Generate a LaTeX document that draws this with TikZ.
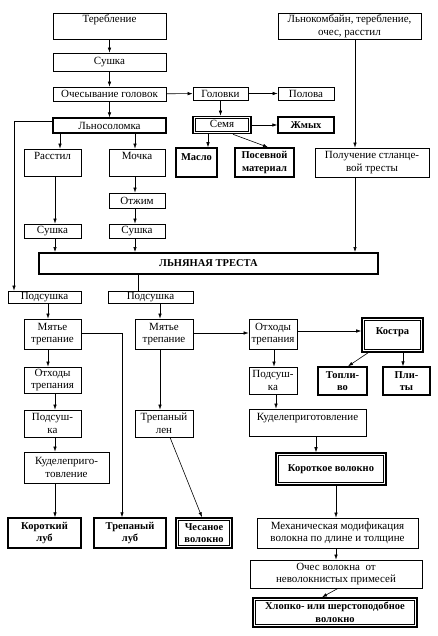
\documentclass[tikz,border=0pt]{standalone}
\usepackage{fontspec}
\setmainfont{Liberation Serif}
\usetikzlibrary{arrows.meta}
\newcommand\fsn{\fontsize{11}{12.5}\selectfont}
\newcommand\fsb{\fontsize{10.5}{12.5}\selectfont\bfseries}
\tikzset{
  base/.style={draw, line width=0.7pt, inner sep=1pt, align=center, font=\fsn},
  thk/.style={base, line width=1.5pt, font=\fsb},
  dbl/.style={base, font=\fsb, line width=1.6pt,
    path picture={\draw[line width=0.6pt]
      ([shift={(2.3pt,-2.3pt)}]path picture bounding box.north west) rectangle
      ([shift={(-2.3pt,2.3pt)}]path picture bounding box.south east);}},
  wh/.style 2 args={minimum width=#1, minimum height=#2},
  tt/.style 2 args={text height=#1, text depth=#2},
  arr/.style={line width=0.6pt, -{Latex[length=5pt,width=3.5pt]}},
  ln/.style={line width=0.6pt}
}
\begin{document}
\begin{tikzpicture}[x=1pt,y=-1pt]
\useasboundingbox (0,0) rectangle (437,636);
% row 1
\node[base, wh={113}{26}, tt={9pt}{15pt}] (tereb) at (109.5,26) {Теребление};
\node[base, wh={143}{26}] (lnokomb) at (349.5,26) {Льнокомбайн, теребление,\\очес, расстил};
\node[base, wh={113}{18}] (sush1) at (109.5,62) {Сушка};
\node[base, wh={113}{14}] (oches) at (109.5,94) {Очесывание головок};
\node[base, wh={55}{13}] (golov) at (220.5,93.5) {Головки};
\node[base, wh={56}{13}] (polova) at (306,93.5) {Полова};
\node[base, line width=1.2pt, wh={113}{15}] (lnosol) at (109.5,125.5) {Льносоломка};
\node[dbl, font=\fsn, wh={58}{17}, tt={8pt}{3pt}] (semya) at (222,125) {Семя};
\node[thk, wh={56}{16}] (zhmyh) at (306,125) {Жмых};
% row 3
\node[base, wh={57}{27}, tt={10pt}{15pt}] (rasstil) at (52.5,162.5) {Расстил};
\node[base, wh={56}{27}, tt={10pt}{15pt}] (mochka) at (137,162.5) {Мочка};
\node[thk, wh={41}{29}, tt={12pt}{15pt}] (maslo) at (196.5,162.5) {Масло};
\node[thk, wh={59}{29}] (posev) at (264.5,162.5) {Посевной\\материал};
\node[base, wh={114}{29}] (poluch) at (372,162.5) {Получение стланце-\\вой тресты};
\node[base, wh={56}{15}] (otzhim) at (137,200.5) {Отжим};
\node[base, wh={57}{14}] (sushA) at (52.5,231) {Сушка};
\node[base, wh={56}{14}] (sushB) at (137,231) {Сушка};
\node[base, line width=2pt, font=\fsb, wh={339}{21}] (tresta) at (208.5,263.5) {ЛЬНЯНАЯ ТРЕСТА};
% lower part
\node[base, wh={73}{12}] (podsA) at (44.5,297) {Подсушка};
\node[base, wh={85}{12}] (podsB) at (150.5,297) {Подсушка};
\node[base, wh={57}{30}] (myatA) at (52.5,334) {Мятье\\трепание};
\node[base, wh={58}{30}] (myatB) at (164,334) {Мятье\\трепание};
\node[base, wh={48}{30}] (othB) at (273,334) {Отходы\\трепания};
\node[dbl, wh={61}{34}, tt={15pt}{17pt}] (kostra) at (392.5,335) {Костра};
\node[base, wh={57}{26}] (othA) at (52.5,380) {Отходы\\трепания};
\node[base, wh={48}{27}] (podsD) at (273,380.5) {Подсуш-\\ка};
\node[thk, wh={49}{28}] (toplivo) at (342.5,381) {Топли-\\во};
\node[thk, wh={47}{28}] (plity) at (406.5,381) {Пли-\\ты};
\node[base, wh={57}{27}] (podsC) at (52.5,423.5) {Подсуш-\\ка};
\node[base, wh={58}{27}] (treplen) at (164,423.5) {Трепаный\\лен};
\node[base, wh={117}{27}, tt={10pt}{15pt}] (kudB) at (307.5,422.5) {Куделеприготовление};
\node[base, wh={85}{31}] (kudA) at (66.5,467.5) {Куделеприго-\\товление};
\node[dbl, wh={110}{32}] (korotvol) at (331,469) {Короткое волокно};
\node[thk, wh={73}{30}] (korlub) at (44.5,533) {Короткий\\луб};
\node[thk, wh={72}{30}] (treplub) at (130,533) {Трепаный\\луб};
\node[dbl, wh={56}{30}] (chesan) at (204,533) {Чесаное\\волокно};
\node[base, wh={161}{30}] (mech) at (337.5,533) {Механическая модификация\\волокна по длине и толщине};
\node[base, wh={172}{28}] (oches2) at (336,574) {Очес волокна~ от\\неволокнистых примесей};
\node[dbl, wh={164}{29}] (hlop) at (335,612.5) {Хлопко- или шерстоподобное\\волокно};
% connectors
\draw[arr] (tereb) -- (sush1);
\draw[arr] (sush1) -- (oches);
\draw[arr] (oches) -- (lnosol);
\draw[arr] (oches) -- (golov);
\draw[arr] (golov) -- (polova);
\draw[arr] (golov.south) -- (golov.south |- semya.north);
\draw[arr] (semya) -- (zhmyh);
\draw[arr] ([xshift=-14pt]semya.south) -- ([xshift=-14pt]semya.south |- maslo.north);
\draw[arr] ([xshift=11pt]semya.south) -- ([xshift=3.5pt]posev.north);
\draw[arr] ([xshift=5.5pt]lnokomb.south) -- ([xshift=5.5pt]lnokomb.south |- poluch.north);
\draw[arr] ([xshift=-17pt]poluch.south) -- ([xshift=-17pt]poluch.south |- tresta.north);
\draw[arr] ([xshift=7.5pt]rasstil.north |- lnosol.south) -- ([xshift=7.5pt]rasstil.north);
\draw[arr] ([xshift=-2pt]mochka.north |- lnosol.south) -- ([xshift=-2pt]mochka.north);
\draw[arr] ([yshift=4pt]lnosol.west) -| ([xshift=-30.5pt]podsA.north);
\draw[arr] ([xshift=2.5pt]rasstil.south) -- ([xshift=2.5pt]sushA.north);
\draw[arr] ([xshift=-2pt]mochka.south) -- ([xshift=-2pt]otzhim.north);
\draw[arr] ([xshift=-2pt]otzhim.south) -- ([xshift=-2pt]sushB.north);
\draw[arr] ([xshift=2.5pt]sushA.south) -- ([xshift=2.5pt]sushA.south |- tresta.north);
\draw[arr] ([xshift=-2pt]sushB.south) -- ([xshift=-2pt]sushB.south |- tresta.north);
\draw[ln] ([xshift=-12.5pt]podsB.north |- tresta.south) -- ([xshift=-12.5pt]podsB.north);
\draw[arr] ([xshift=-4.5pt]myatA.north |- podsA.south) -- ([xshift=-4.5pt]myatA.north);
\draw[arr] ([xshift=-4pt]myatB.north |- podsB.south) -- ([xshift=-4pt]myatB.north);
\draw[arr] ([yshift=1pt]myatA.east) -| ([xshift=-8pt]treplub.north);
\draw[arr] ([yshift=1pt]myatB.east) -- ([yshift=1pt]othB.west);
\draw[arr] ([xshift=-4pt]myatB.south) -- ([xshift=-4pt]treplen.north);
\draw[arr] ([xshift=-4.5pt]myatA.south) -- ([xshift=-4.5pt]othA.north);
\draw[arr] ([xshift=2.5pt]othA.south) -- ([xshift=2.5pt]podsC.north);
\draw[arr] ([xshift=2.5pt]podsC.south) -- ([xshift=2.5pt]podsC.south |- kudA.north);
\draw[arr] ([xshift=2.5pt]podsC.south |- kudA.south) -- ([xshift=10.5pt]korlub.north);
\draw[arr] ([xshift=6pt]treplen.south) -- ([xshift=-2pt]chesan.north);
\draw[arr] ([yshift=3pt]othB.east) -- ([yshift=3pt]othB.east -| kostra.west);
\draw[arr] ([xshift=1pt]othB.south) -- ([xshift=1pt]podsD.north);
\draw[arr] ([xshift=-24.5pt]kostra.south) -- ([xshift=5.5pt]toplivo.north);
\draw[arr] ([xshift=10.5pt]kostra.south) -- ([xshift=10.5pt]kostra.south |- plity.north);
\draw[arr] ([xshift=3pt]podsD.south) -- ([xshift=3pt]podsD.south |- kudB.north);
\draw[arr] ([xshift=8.5pt]kudB.south) -- ([xshift=8.5pt]kudB.south |- korotvol.north);
\draw[arr] ([xshift=5pt]korotvol.south) -- ([xshift=5pt]korotvol.south |- mech.north);
\draw[arr] ([xshift=-1.5pt]mech.south) -- ([xshift=-1.5pt]mech.south |- oches2.north);
\draw[arr] ([xshift=2pt]oches2.south) -- ([xshift=-13pt]hlop.north);
\end{tikzpicture}
\end{document}
